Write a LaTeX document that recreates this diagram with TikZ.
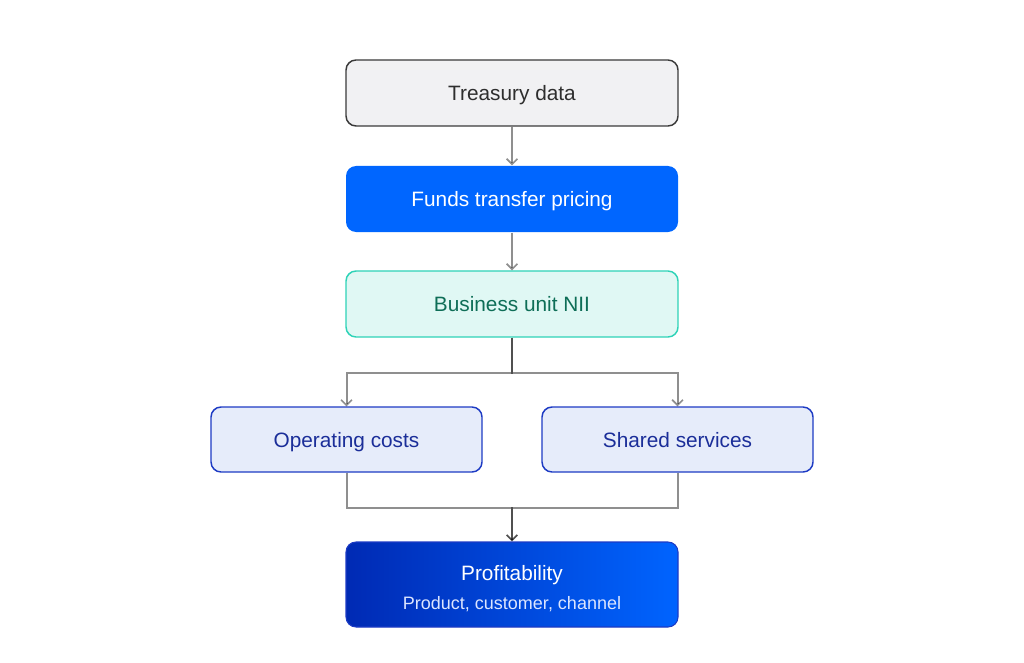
\documentclass[tikz,border=0pt]{standalone}
\usepackage{fontspec}
\setmainfont{Liberation Sans}
\usetikzlibrary{arrows.meta}
\definecolor{tsfill}{HTML}{F1F1F3}
\definecolor{tsline}{HTML}{3A3A3A}
\definecolor{tstext}{HTML}{2E2E2E}
\definecolor{ftp}{HTML}{0066FF}
\definecolor{bizfill}{HTML}{E0F8F4}
\definecolor{bizline}{HTML}{2ED3B7}
\definecolor{biztext}{HTML}{0E6E57}
\definecolor{opfill}{HTML}{E6ECFA}
\definecolor{opline}{HTML}{1D3BC4}
\definecolor{optext}{HTML}{1B2E99}
\definecolor{profL}{HTML}{002AB4}
\definecolor{profR}{HTML}{0064FF}
\definecolor{subtext}{HTML}{DCE5FF}
\tikzset{
  box/.style={rounded corners=7.5pt, line width=1.1pt, align=center, inner sep=0pt,
    font=\fontsize{15.6}{18}\selectfont},
  onetext/.style={text height=13pt, text depth=1.4pt},
  widebox/.style={box, onetext, minimum width=249pt, minimum height=49.5pt},
  sidebox/.style={box, onetext, minimum width=203.25pt, minimum height=48.75pt,
    draw=opline, fill=opfill, text=optext},
  conn/.style={draw=black, draw opacity=0.44, line width=1.5pt,
    -{Straight Barb[length=4pt,width=8pt,line width=1.2pt]}},
}
\begin{document}
\begin{tikzpicture}[x=0.75pt,y=-0.75pt]
\useasboundingbox (0,0) rectangle (1024,663);
\node[widebox, draw=tsline, fill=tsfill, text=tstext] (ts) at (512,93) {Treasury data};
\node[widebox, fill=ftp, text=white] (ftp) at (512,199) {Funds transfer pricing};
\node[widebox, draw=bizline, fill=bizfill, text=biztext] (biz) at (512,304) {Business unit NII};
\node[sidebox] (op) at (346.5,439.5) {Operating costs};
\node[sidebox] (ss) at (677.5,439.5) {Shared services};
\node[box, minimum width=249pt, minimum height=63.75pt, draw=opline, line width=0.8pt,
  left color=profL, right color=profR, text=white,
  font=\fontsize{15.6}{21.75}\selectfont] (prof) at (512,584.5)
  {\rule{0pt}{17.75pt}Profitability\\
   \fontsize{13.5}{21.75}\selectfont\color{subtext}Product, customer, channel\rule[-2pt]{0pt}{0pt}};
\draw[conn] (ts) -- (ftp);
\draw[conn] (ftp) -- (biz);
\draw[conn] (biz.south) -- ++(0,35) -| (op.north);
\draw[conn] (biz.south) -- ++(0,35) -| (ss.north);
\draw[conn] (op.south) -- ++(0,35) -| (prof.north);
\draw[conn] (ss.south) -- ++(0,35) -| (prof.north);
\end{tikzpicture}
\end{document}
